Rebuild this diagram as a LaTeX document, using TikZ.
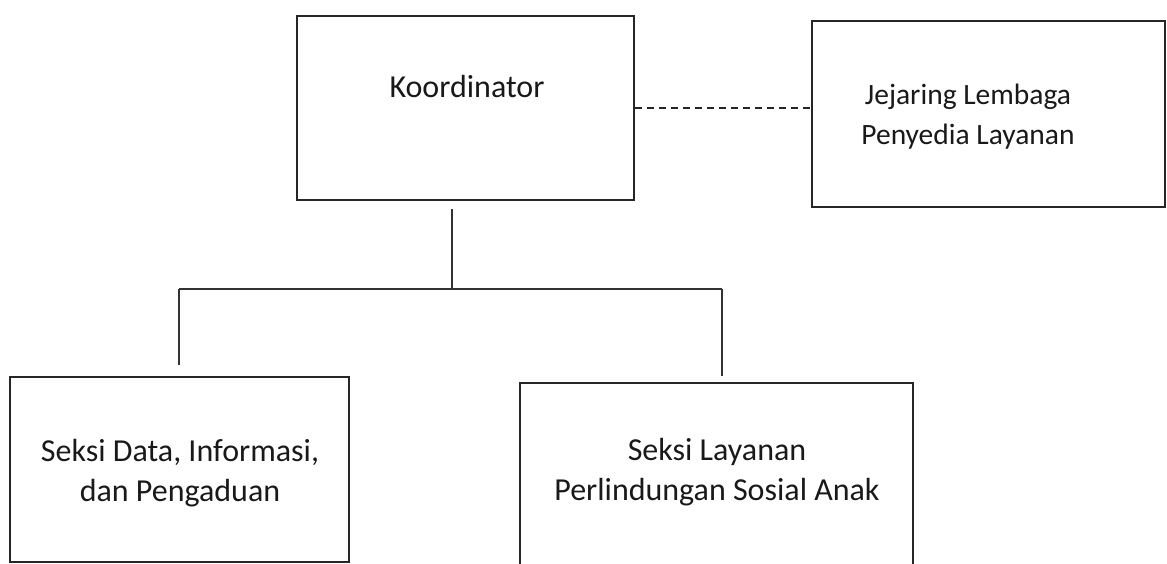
\documentclass[tikz,border=0pt]{standalone}
\usepackage{fontspec}
\setmainfont{Carlito}
\begin{document}
\begin{tikzpicture}[x=1pt,y=-1pt,
  box/.style={draw=black!85,line width=2pt,minimum width=#1,inner sep=0pt},
  lbl/.style={font=\fontsize{32}{40}\selectfont,align=center,inner sep=0pt,text=black!90},
  conn/.style={draw=black!80,line width=1.4pt},
  dashconn/.style={draw=black!85,line width=1.6pt,dash pattern=on 7pt off 5pt}]
\useasboundingbox (0,0) rectangle (1167,564);
\node[box=337pt,minimum height=184pt] (koord) at (465.5,108) {};
\node[box=353pt,minimum height=186pt] (jej) at (988.5,114) {};
\node[box=339pt,minimum height=185pt] (left) at (179.5,469.5) {};
\node[box=393pt,minimum height=190pt] (right) at (716.5,478) {};
\node[lbl] (tk) at (467,87) {Koordinator};
\node[lbl,font=\fontsize{29.5}{40}\selectfont] (tj) at (968,117) {Jejaring Lembaga\\Penyedia Layanan};
\node[lbl] (tl) at (180,473) {Seksi Data, Informasi,\\dan Pengaduan};
\node[lbl] (tr) at (717,472) {Seksi Layanan\\Perlindungan Sosial Anak};
\coordinate (j) at (452,289);
\coordinate (jl) at (179,289);
\coordinate (jr) at (722,289);
\draw[conn,shorten <=8pt] (j |- koord.south) -- (j);
\draw[conn] (jl) -- (jr);
\draw[conn,shorten >=11pt] (jl) -- (jl |- left.north);
\draw[conn,shorten >=6pt] (jr) -- (jr |- right.north);
\draw[dashconn] (koord.east) -- (koord.east -| jej.west);
\end{tikzpicture}
\end{document}
